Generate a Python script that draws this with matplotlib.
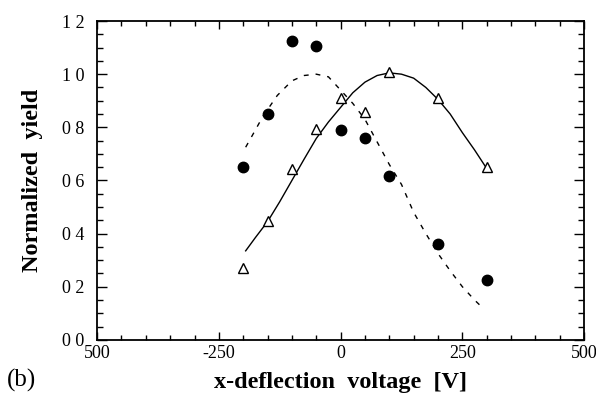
import matplotlib.pyplot as plt
from matplotlib.ticker import MultipleLocator, FixedLocator

# datos
volt = [-200, -150, -100, -50, 0, 50, 100, 200, 300]
yield_circ = [0.65, 0.85, 1.125, 1.105, 0.79, 0.76, 0.615, 0.36, 0.225]
yield_tri = [0.27, 0.447, 0.642, 0.792, 0.912, 0.857, 1.01, 0.91, 0.65]

# curva continua (ajuste de los triangulos)
fit_solid_x = [-195, -175, -150, -125, -100, -75, -50, -25, 0, 25, 50, 75, 100,
               125, 150, 175, 200, 225, 250, 275, 300]
fit_solid_y = [0.335, 0.385, 0.445, 0.52, 0.60, 0.68, 0.758, 0.82, 0.875, 0.93,
               0.97, 0.995, 1.005, 1.0, 0.985, 0.95, 0.905, 0.85, 0.78, 0.715, 0.645]

# curva discontinua (ajuste de los circulos)
fit_dash_x = [-195, -175, -160, -130, -100, -75, -50, -25, 0, 25, 50, 75, 100,
              125, 150, 175, 200, 225, 250, 275, 292]
fit_dash_y = [0.725, 0.79, 0.84, 0.92, 0.975, 0.995, 1.0, 0.99, 0.94, 0.89, 0.83,
              0.745, 0.66, 0.585, 0.48, 0.40, 0.325, 0.26, 0.20, 0.15, 0.12]

xtick_vals = [-500, -250, 0, 250, 500]
xtick_text = ["500", "-250", "0", "250", "500"]
ytick_vals = [0.0, 0.2, 0.4, 0.6, 0.8, 1.0, 1.2]
ytick_text = ["0 0", "0 2", "0 4", "0 6", "0 8", "1 0", "1 2"]

plt.rcParams['font.family'] = ['Liberation Serif', 'DejaVu Serif']

fig = plt.figure(figsize=(5.96, 3.97), dpi=100)
ax = fig.add_axes([0.163, 0.144, 0.817, 0.803])

ax.plot(fit_solid_x, fit_solid_y, color='black', lw=1.0)
ax.plot(fit_dash_x, fit_dash_y, color='black', lw=1.0, dashes=(3.5, 5))
ax.plot(volt, yield_circ, 'o', color='black', ms=7.5, ls='none')
ax.plot(volt, yield_tri, '^', mfc='white', mec='black', mew=1.0, ms=7, ls='none')

ax.set_xlim(-500, 500)
ax.set_ylim(0, 1.2)
ax.xaxis.set_major_locator(FixedLocator(xtick_vals))
ax.set_xticklabels(xtick_text)
ax.xaxis.set_minor_locator(MultipleLocator(50))
ax.yaxis.set_major_locator(FixedLocator(ytick_vals))
ax.set_yticklabels(ytick_text)
ax.yaxis.set_minor_locator(MultipleLocator(0.05))

ax.tick_params(axis='both', which='both', direction='in', top=True, right=True,
               width=1.0, labelsize=13)
ax.tick_params(axis='x', which='major', length=6, pad=4)
ax.tick_params(axis='x', which='minor', length=3.5)
ax.tick_params(axis='y', which='major', length=7, pad=9)
ax.tick_params(axis='y', which='minor', length=4)
for s in ax.spines.values():
    s.set_linewidth(1.3)

ax.set_xlabel("x-deflection  voltage  [V]", fontsize=17.5, fontweight='bold', labelpad=7)
ax.set_ylabel("Normalized  yield", fontsize=17.5, fontweight='bold', labelpad=14)

fig.text(0.012, 0.025, "(b)", fontsize=18)

plt.savefig("out.png")
